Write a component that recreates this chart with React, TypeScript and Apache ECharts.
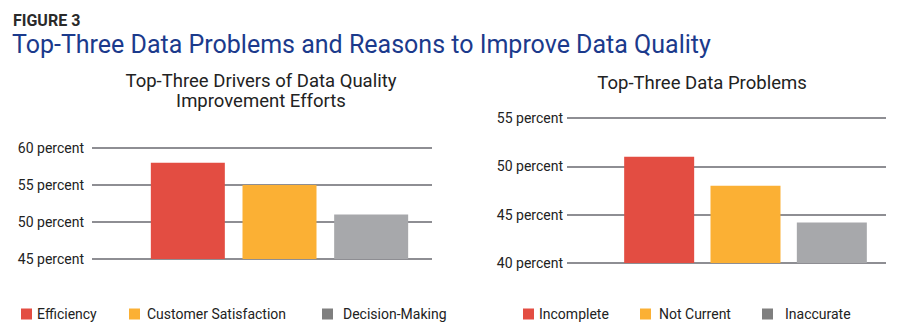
import React, { useEffect, useRef } from "react";
import * as echarts from "echarts";

const leftCategories = ["Efficiency", "Customer Satisfaction", "Decision-Making"];
const leftValues = [58, 55, 51];
const rightCategories = ["Incomplete", "Not Current", "Inaccurate"];
const rightValues = [51, 48, 44.2];
const leftTicks = [45, 60, 5];
const rightTicks = [40, 55, 5];
const barColors = ["#e34d42", "#fbb034", "#a7a8ab"];
const legendColors = ["#e34d42", "#fbb034", "#7f7f7f"];

const FONT = "Roboto";

export default function App() {
  const ref = useRef<HTMLDivElement>(null);
  useEffect(() => {
    if (!ref.current) return;
    const chart = echarts.init(ref.current, undefined, { renderer: "svg" });

    const makeSeries = (cats: string[], vals: number[], xIdx: number, yIdx: number, bw: number) =>
      cats.map((c, i) => ({
        type: "bar",
        name: c,
        xAxisIndex: xIdx,
        yAxisIndex: yIdx,
        barWidth: bw,
        barGap: "-100%",
        itemStyle: { color: barColors[i] },
        data: vals.map((v, j) => (j === i ? v : "-")),
      }));

    const legendPos = [
      [21, 129, 322],
      [523, 640, 762],
    ];
    const legendTextPad = [
      [0, 2, 5],
      [0, 3, 7],
    ];
    const legends: any[] = [];
    [leftCategories, rightCategories].forEach((cats, k) => {
      cats.forEach((c, i) => {
        legends.push({
          left: legendPos[k][i],
          top: 307,
          padding: 0,
          itemWidth: 11,
          itemHeight: 11,
          itemGap: 0,
          icon: "rect",
          textStyle: { fontFamily: FONT, fontSize: 14, color: "#222", padding: [0, 0, 0, legendTextPad[k][i]] },
          data: [{ name: c, itemStyle: { color: legendColors[i] } }],
        });
      });
    });

    const gridLine = { show: true, lineStyle: { color: "#8e8e93", width: 2 } };

    chart.setOption({
      animation: false,
      textStyle: { fontFamily: FONT },
      title: [
        {
          text: "FIGURE 3",
          left: 8,
          top: 7,
          textStyle: { fontFamily: FONT, fontSize: 16, fontWeight: "bold", color: "#2a2a2a" },
        },
        {
          text: "Top-Three Data Problems and Reasons to Improve Data Quality",
          left: 7,
          top: 27,
          textStyle: { fontFamily: FONT, fontSize: 25, fontWeight: "normal", color: "#1b3a8c" },
        },
        {
          text: "Top-Three Drivers of Data Quality\nImprovement Efforts",
          left: 256,
          top: 66,
          textAlign: "center",
          textStyle: { fontFamily: FONT, fontSize: 18.5, fontWeight: "normal", color: "#222", lineHeight: 20, align: "center" },
        },
        {
          text: "Top-Three Data Problems",
          left: 697,
          top: 68,
          textAlign: "center",
          textStyle: { fontFamily: FONT, fontSize: 18.5, fontWeight: "normal", color: "#222" },
        },
      ],
      legend: legends,
      grid: [
        { left: 92, right: 468, top: 148, bottom: 71 },
        { left: 142, right: 483, top: 148, bottom: 71 },
        { left: 567, right: 14, top: 118, bottom: 67 },
        { left: 616, right: 25, top: 118, bottom: 67 },
      ],
      xAxis: [
        { type: "value", gridIndex: 0, show: false },
        { type: "category", gridIndex: 1, show: false, data: leftCategories },
        { type: "value", gridIndex: 2, show: false },
        { type: "category", gridIndex: 3, show: false, data: rightCategories },
      ],
      yAxis: [
        {
          type: "value",
          gridIndex: 0,
          min: leftTicks[0],
          max: leftTicks[1],
          interval: leftTicks[2],
          axisLine: { show: false },
          axisTick: { show: false },
          splitLine: gridLine,
          axisLabel: { margin: 8, fontFamily: FONT, fontSize: 14, color: "#222", formatter: (v: number) => `${v} percent` },
        },
        { type: "value", gridIndex: 1, min: leftTicks[0], max: leftTicks[1], show: false, splitLine: { show: false } },
        {
          type: "value",
          gridIndex: 2,
          min: rightTicks[0],
          max: rightTicks[1],
          interval: rightTicks[2],
          axisLine: { show: false },
          axisTick: { show: false },
          splitLine: gridLine,
          axisLabel: { margin: 4, fontFamily: FONT, fontSize: 14, color: "#222", formatter: (v: number) => `${v} percent` },
        },
        { type: "value", gridIndex: 3, min: rightTicks[0], max: rightTicks[1], show: false, splitLine: { show: false } },
      ],
      series: [
        ...makeSeries(leftCategories, leftValues, 1, 1, 74),
        ...makeSeries(rightCategories, rightValues, 3, 3, 70),
      ],
    });
    return () => chart.dispose();
  }, []);
  return (
    <div
      ref={ref}
      style={{ position: "fixed", left: 0, top: 0, width: 900, height: 330, background: "#fff" }}
    />
  );
}
